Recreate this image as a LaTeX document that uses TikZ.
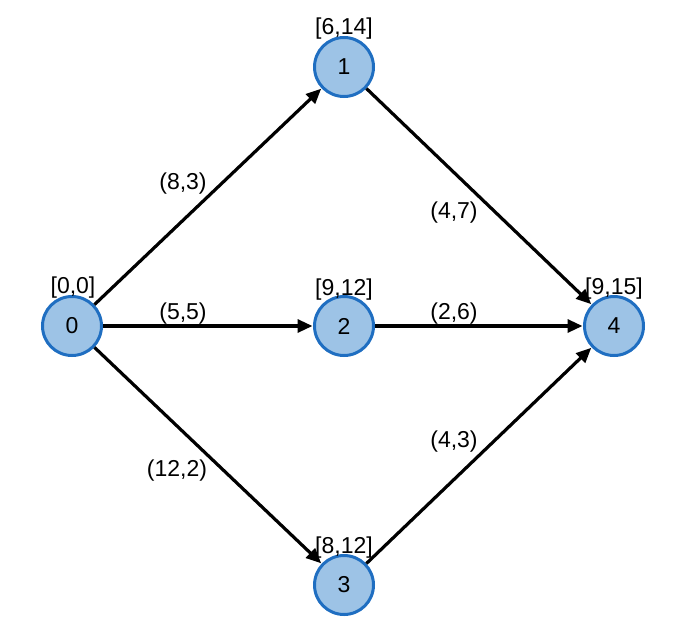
\documentclass[tikz,border=0pt]{standalone}
\usepackage{fontspec}
\setmainfont{Liberation Sans}
\usetikzlibrary{arrows.meta}
\definecolor{nfill}{HTML}{9DC3E6}
\definecolor{nline}{HTML}{1F6EC1}
\begin{document}
\begin{tikzpicture}[x=1pt,y=-1pt,
  vert/.style={circle,draw=nline,fill=nfill,line width=3pt,minimum size=59pt,inner sep=0pt,font=\fontsize{23}{26}\selectfont},
  lbl/.style={font=\fontsize{23}{26}\selectfont,inner sep=0pt},
  arc/.style={line width=3.2pt,-{Triangle[length=15pt,width=13pt]},shorten >=0.5pt}]
\useasboundingbox (0,0) rectangle (682,632);
\node[vert] (n0) at (72,326) {0};
\node[vert] (n1) at (344,67) {1};
\node[vert] (n2) at (344,326) {2};
\node[vert] (n3) at (344,585) {3};
\node[vert] (n4) at (614,326) {4};
\node[lbl] (t0) at (73,288) {[0,0]};
\node[lbl] (t1) at (344,29) {[6,14]};
\node[lbl] (t2) at (344,290) {[9,12]};
\node[lbl] (t3) at (344,548) {[8,12]};
\node[lbl] (t4) at (614,289) {[9,15]};
\draw[arc] (n0) -- (n1);
\draw[arc] (n0) -- (n2);
\draw[arc] (n0) -- (n3);
\draw[arc] (n1) -- (n4);
\draw[arc] (n2) -- (n4);
\draw[arc] (n3) -- (n4);
\node[lbl] (e01) at (183,184) {(8,3)};
\node[lbl] (e02) at (183,314) {(5,5)};
\node[lbl] (e03) at (177,471) {(12,2)};
\node[lbl] (e14) at (454,213) {(4,7)};
\node[lbl] (e24) at (454,314) {(2,6)};
\node[lbl] (e34) at (454,442) {(4,3)};
\end{tikzpicture}
\end{document}
